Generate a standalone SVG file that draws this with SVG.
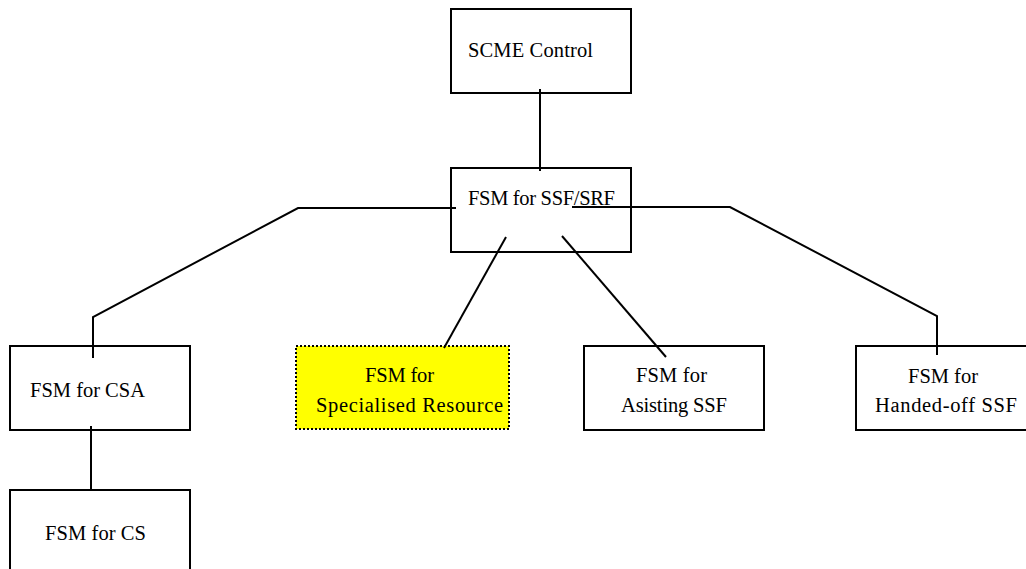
<svg xmlns="http://www.w3.org/2000/svg" width="1026" height="569" viewBox="0 0 1026 569">
<style>
.box{fill:#fff;stroke:#000;stroke-width:2}
.hl{fill:#ffff00;stroke:#000;stroke-width:2;stroke-dasharray:2 2}
.c{fill:none;stroke:#000;stroke-width:2}
</style>
<rect width="1026" height="569" fill="#fff"/>
<g font-family="'Liberation Serif', 'Times New Roman', 'DejaVu Serif', serif" font-size="20.5" fill="#000">
<g id="scme"><rect class="box" x="451" y="9" width="180" height="84"/><text x="468" y="57" textLength="125">SCME Control</text></g>
<g id="ssf"><rect class="box" x="451" y="168" width="180" height="84"/><text x="468" y="205" textLength="147">FSM for SSF/SRF</text></g>
<g id="csa"><rect class="box" x="10" y="346" width="180" height="84"/><text x="30" y="397" textLength="115">FSM for CSA</text></g>
<g id="cs"><rect class="box" x="10" y="490" width="180" height="90"/><text x="45" y="540" textLength="101">FSM for CS</text></g>
<g id="sr"><rect class="hl" x="296" y="346" width="213" height="83"/><text x="365" y="382" textLength="69">FSM for</text><text x="316" y="412" textLength="187">Specialised Resource</text></g>
<g id="assist"><rect class="box" x="584" y="346" width="180" height="84"/><text x="636" y="382" textLength="71">FSM for</text><text x="621" y="412" textLength="106">Asisting SSF</text></g>
<g id="handed"><rect class="box" x="856" y="346" width="180" height="84"/><text x="908" y="383" textLength="70">FSM for</text><text x="875" y="412" textLength="142">Handed-off SSF</text></g>
</g>
<g id="connectors">
<path class="c" d="M540 89V171"/>
<path class="c" d="M456 208H298L93 317V358"/>
<path class="c" d="M91 426V491"/>
<path class="c" d="M506 237L444 348"/>
<path class="c" d="M562 236L666 357"/>
<path class="c" d="M572 207H730L937 316V355"/>
</g>
</svg>
